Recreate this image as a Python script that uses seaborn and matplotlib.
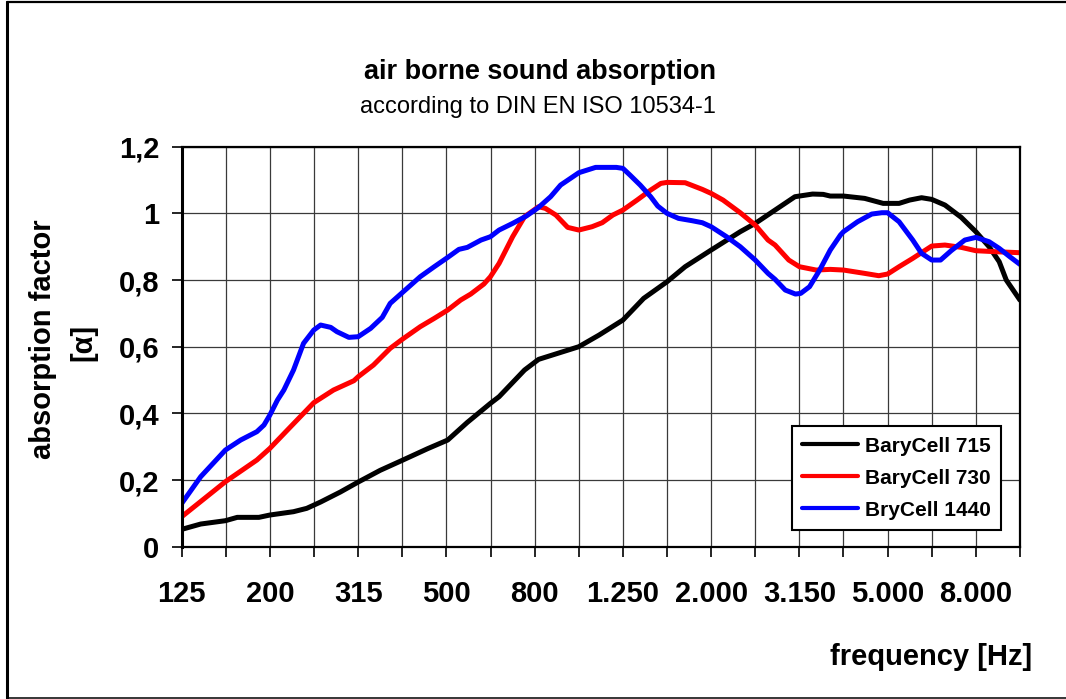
import numpy as np
import pandas as pd
import matplotlib.pyplot as plt
import seaborn as sns
from matplotlib.lines import Line2D
from matplotlib.ticker import NullLocator

# third-octave bands shown on the x axis
BANDS = [125, 160, 200, 250, 315, 400, 500, 630, 800, 1000,
         1250, 1600, 2000, 2500, 3150, 4000, 5000, 6300, 8000, 10000]
BAND_LABELS = ['125', '', '200', '', '315', '', '500', '', '800', '',
               '1.250', '', '2.000', '', '3.150', '', '5.000', '', '8.000', '']
Y_TICKS = [0, 0.2, 0.4, 0.6, 0.8, 1.0, 1.2]
Y_LABELS = ['0', '0,2', '0,4', '0,6', '0,8', '1', '1,2']

# BaryCell 715
FREQ_715 = [125, 138, 157, 167, 187, 198, 224, 240, 258, 286, 314, 352, 395, 451, 501, 555,
            626, 655, 748, 805, 993, 1104, 1250, 1393, 1574, 1730, 1981, 2306, 2494, 2766,
            3068, 3364, 3556, 3689, 3953, 4415, 4863, 5283, 5584, 5942, 6265, 6713, 7310,
            7887, 8451, 8911, 9245, 9929]
ALPHA_715 = [0.052, 0.068, 0.078, 0.088, 0.088, 0.095, 0.105, 0.115, 0.134, 0.164, 0.194,
             0.229, 0.259, 0.294, 0.32, 0.373, 0.43, 0.45, 0.53, 0.562, 0.60, 0.635, 0.68,
             0.745, 0.795, 0.84, 0.89, 0.945, 0.97, 1.01, 1.05, 1.058, 1.057, 1.052, 1.052,
             1.045, 1.03, 1.03, 1.04, 1.047, 1.042, 1.025, 0.988, 0.945, 0.90, 0.855, 0.80, 0.74]

# BaryCell 730
FREQ_730 = [125, 157, 185, 198, 217, 249, 276, 307, 314, 340, 371, 395, 434, 467, 501, 536,
            565, 605, 626, 655, 703, 748, 805, 834, 881, 937, 993, 1064, 1122, 1186, 1250,
            1346, 1445, 1524, 1574, 1730, 1892, 1981, 2108, 2306, 2494, 2666, 2766, 2971,
            3140, 3427, 3689, 3953, 4415, 4752, 4976, 5283, 5674, 6265, 6713, 7310, 7887,
            8748, 9929]
ALPHA_730 = [0.09, 0.195, 0.26, 0.295, 0.35, 0.432, 0.47, 0.498, 0.51, 0.545, 0.595, 0.622,
             0.66, 0.685, 0.71, 0.74, 0.758, 0.788, 0.81, 0.85, 0.93, 0.99, 1.02, 1.015, 0.995,
             0.958, 0.95, 0.96, 0.972, 0.995, 1.01, 1.04, 1.07, 1.09, 1.093, 1.092, 1.072,
             1.06, 1.04, 1.002, 0.965, 0.92, 0.905, 0.86, 0.84, 0.83, 0.832, 0.83, 0.82,
             0.813, 0.818, 0.84, 0.865, 0.902, 0.905, 0.898, 0.888, 0.885, 0.882]

# BryCell 1440
FREQ_1440 = [125, 138, 157, 170, 185, 192, 198, 206, 213, 224, 236, 249, 258, 272, 281, 299,
             314, 335, 356, 371, 395, 434, 467, 501, 531, 555, 596, 626, 655, 703, 755, 805,
             857, 903, 993, 1084, 1208, 1250, 1297, 1368, 1445, 1499, 1574, 1671, 1794, 1892,
             1981, 2147, 2306, 2494, 2666, 2766, 2917, 3076, 3162, 3311, 3491, 3689, 3890,
             3953, 4255, 4581, 4830, 4976, 5283, 5674, 5942, 6265, 6560, 6933, 7446, 7887,
             8451, 8911, 9417, 9929]
ALPHA_1440 = [0.13, 0.21, 0.29, 0.32, 0.345, 0.365, 0.395, 0.44, 0.47, 0.53, 0.61, 0.65,
              0.665, 0.658, 0.645, 0.628, 0.63, 0.655, 0.688, 0.73, 0.762, 0.81, 0.84, 0.868,
              0.892, 0.898, 0.92, 0.93, 0.95, 0.97, 0.992, 1.018, 1.05, 1.085, 1.122, 1.138,
              1.138, 1.135, 1.115, 1.085, 1.05, 1.022, 1.0, 0.985, 0.978, 0.972, 0.96, 0.93,
              0.90, 0.86, 0.82, 0.802, 0.77, 0.758, 0.76, 0.78, 0.83, 0.89, 0.935, 0.945,
              0.975, 0.998, 1.002, 1.002, 0.975, 0.92, 0.88, 0.86, 0.86, 0.888, 0.92, 0.928,
              0.915, 0.895, 0.87, 0.847]

SERIES = ['BaryCell 715', 'BaryCell 730', 'BryCell 1440']
COLORS = {'BaryCell 715': '#000000', 'BaryCell 730': '#ff0000', 'BryCell 1440': '#0000ff'}

sns.set_theme(style="white")
plt.rcParams['font.family'] = ['Liberation Sans', 'DejaVu Sans']
plt.rcParams['text.color'] = 'black'
plt.rcParams['xtick.color'] = 'black'
plt.rcParams['ytick.color'] = 'black'
plt.rcParams['axes.labelcolor'] = 'black'

df = pd.concat([
    pd.DataFrame({'freq': FREQ_715, 'alpha': ALPHA_715, 'product': SERIES[0]}),
    pd.DataFrame({'freq': FREQ_730, 'alpha': ALPHA_730, 'product': SERIES[1]}),
    pd.DataFrame({'freq': FREQ_1440, 'alpha': ALPHA_1440, 'product': SERIES[2]}),
])

fig = plt.figure(figsize=(10.66, 6.99), dpi=100)
ax = fig.add_axes([0.1705, 0.2179, 0.7863, 0.5722])

sns.lineplot(data=df, x='freq', y='alpha', hue='product', hue_order=SERIES,
             palette=COLORS, estimator=None, linewidth=3.6, legend=False, ax=ax)

# exact third-octave positions for the nominal bands
band_pos = [BANDS[0] * 10 ** (i / 10) for i in range(len(BANDS))]
ax.set_xscale('log')
ax.set_xlim(band_pos[0], band_pos[-1])
ax.set_ylim(0, 1.2)
ax.set_xticks(band_pos)
ax.set_xticklabels(BAND_LABELS)
ax.xaxis.set_minor_locator(NullLocator())
ax.set_yticks(Y_TICKS)
ax.set_yticklabels(Y_LABELS)
ax.set_xlabel('')
ax.set_ylabel('')

ax.grid(True, color='#3a3a3a', linewidth=0.9)
ax.set_axisbelow(True)
for side, lw in [('left', 2.2), ('top', 1.6), ('right', 1.6), ('bottom', 1.6)]:
    ax.spines[side].set_visible(True)
    ax.spines[side].set_color('black')
    ax.spines[side].set_linewidth(lw)

ax.tick_params(axis='both', which='major', bottom=True, left=True, direction='out',
               length=7.2, width=1.2, color='black', labelcolor='black', labelsize=21)
ax.tick_params(axis='x', pad=17)
ax.tick_params(axis='y', pad=9)
for lab in ax.get_xticklabels() + ax.get_yticklabels():
    lab.set_fontweight('bold')

handles = [Line2D([], [], color=COLORS[s], linewidth=3.0) for s in SERIES]
leg = ax.legend(handles, SERIES, loc='lower left', bbox_to_anchor=(0.7277, 0.0418),
                borderaxespad=0, frameon=True, fancybox=False, shadow=False,
                prop={'size': 15, 'weight': 'bold'}, handlelength=2.7,
                handletextpad=0.3, labelspacing=0.62, borderpad=0.5)
leg.get_frame().set_edgecolor('black')
leg.get_frame().set_linewidth(1.5)
leg.get_frame().set_alpha(1)
for t in leg.get_texts():
    t.set_color('black')

fig.text(0.507, 0.897, 'air borne sound absorption', ha='center', va='center',
         fontsize=19.5, fontweight='bold')
fig.text(0.505, 0.847, 'according to DIN EN ISO 10534-1', ha='center', va='center',
         fontsize=17)
fig.text(43 / 1066, 1 - 339 / 699, 'absorption factor', rotation=90, ha='center',
         va='center', fontsize=21, fontweight='bold')
fig.text(83.5 / 1066, 1 - 342 / 699, '[α]', rotation=90, ha='center', va='center',
         fontsize=21, fontweight='bold')
fig.text(931 / 1066, 1 - 657 / 699, 'frequency [Hz]', ha='center', va='center',
         fontsize=21, fontweight='bold')

# outer frame (left, top, bottom)
x0, y0, y1 = 7.3 / 1066, 1 - 697.5 / 699, 1 - 2.3 / 699
fig.add_artist(Line2D([x0, x0], [y0, y1], transform=fig.transFigure, color='black', linewidth=2.2))
fig.add_artist(Line2D([x0, 1], [y1, y1], transform=fig.transFigure, color='black', linewidth=1.6))
fig.add_artist(Line2D([x0, 1], [y0, y0], transform=fig.transFigure, color='black', linewidth=1.1))

fig.savefig('out.png', dpi=100)
